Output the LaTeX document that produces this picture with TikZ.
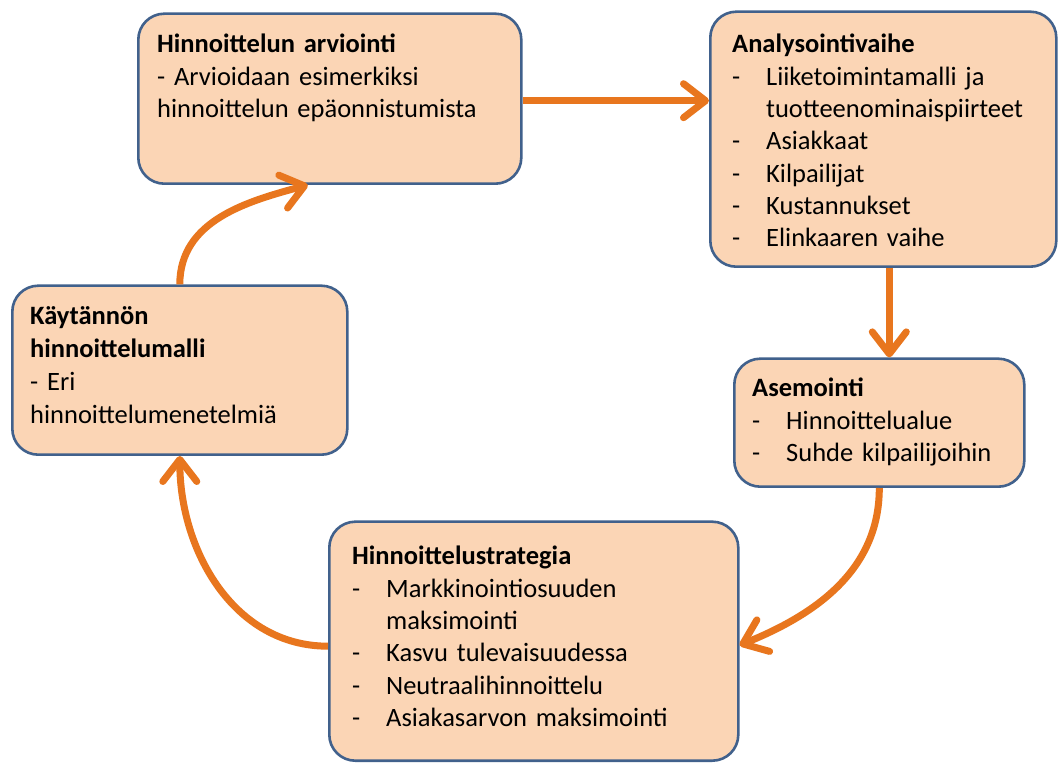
\documentclass[tikz,border=0pt]{standalone}
\usepackage{fontspec}
\setmainfont{Carlito}
\usetikzlibrary{arrows.meta,calc}
\definecolor{boxfill}{HTML}{FBD5B5}
\definecolor{boxline}{HTML}{41618C}
\definecolor{flowc}{HTML}{E8761E}
% list lines: a dash, then the item text at a fixed indent
\newcommand{\dashitem}[1]{\makebox[34pt][l]{-}#1}
\newcommand{\dashcont}{\hspace*{34pt}}
\begin{document}
\begin{tikzpicture}[x=1pt,y=1pt,
  box/.style={draw=boxline, fill=boxfill, line width=2.6pt, rounded corners=26pt,
    anchor=south west, inner sep=0pt},
  txt/.style={anchor=base west, inner sep=0pt, text width=390pt, align=left,
    font=\fontsize{26.5}{32.3}\selectfont},
  flow/.style={draw=flowc, line width=7pt,
    -{Straight Barb[length=22pt, width=34pt, line cap=round, line join=round]}}]
\useasboundingbox (0,0) rectangle (1060,766);
\fill[white] (0,0) rectangle (1060,766);

% boxes
\node[box, minimum width=383pt, minimum height=170pt] (b1) at (137,581) {};
\node[box, minimum width=346pt, minimum height=255pt] (b2) at (709,498) {};
\node[box, minimum width=290pt, minimum height=128pt] (b3) at (733,278) {};
\node[box, minimum width=409pt, minimum height=239pt] (b4) at (328,4) {};
\node[box, minimum width=335pt, minimum height=169pt] (b5) at (11,310) {};

% texts
\node[txt] (t1) at (157,713) {\textbf{Hinnoittelun arviointi}\\- Arvioidaan esimerkiksi\\hinnoittelun epäonnistumista};
\node[txt] (t2) at (732,713) {\textbf{Analysointivaihe}\\\dashitem{Liiketoimintamalli ja}\\\dashcont tuotteenominaispiirteet\\\dashitem{Asiakkaat}\\\dashitem{Kilpailijat}\\\dashitem{Kustannukset}\\\dashitem{Elinkaaren vaihe}};
\node[txt] (t3) at (752,369) {\textbf{Asemointi}\\\dashitem{Hinnoittelualue}\\\dashitem{Suhde kilpailijoihin}};
\node[txt] (t4) at (352,201) {\textbf{Hinnoittelustrategia}\\\dashitem{Markkinointiosuuden}\\\dashcont maksimointi\\\dashitem{Kasvu tulevaisuudessa}\\\dashitem{Neutraalihinnoittelu}\\\dashitem{Asiakasarvon maksimointi}};
\node[txt, font=\fontsize{26.5}{33}\selectfont] (t5) at (30,441) {\textbf{Käytännön}\\\textbf{hinnoittelumalli}\\- Eri\\hinnoittelumenetelmiä};

% cycle arrows
\draw[flow] ([yshift=-2pt]b1.east) -- ([yshift=-2pt]b1.east -| b2.west);
\draw[flow] ([xshift=6pt]b2.south) -- ([xshift=6pt]b2.south |- b3.north);
\draw[flow] (b3.south) to[out=-90, in=22] ([yshift=-4pt]b4.east);
\draw[flow] ([yshift=-5pt]b4.west) to[out=180, in=-90] (b5.south);
\draw[flow] (b5.north) to[out=90, in=195] ([xshift=-22pt]b1.south);
\end{tikzpicture}
\end{document}
